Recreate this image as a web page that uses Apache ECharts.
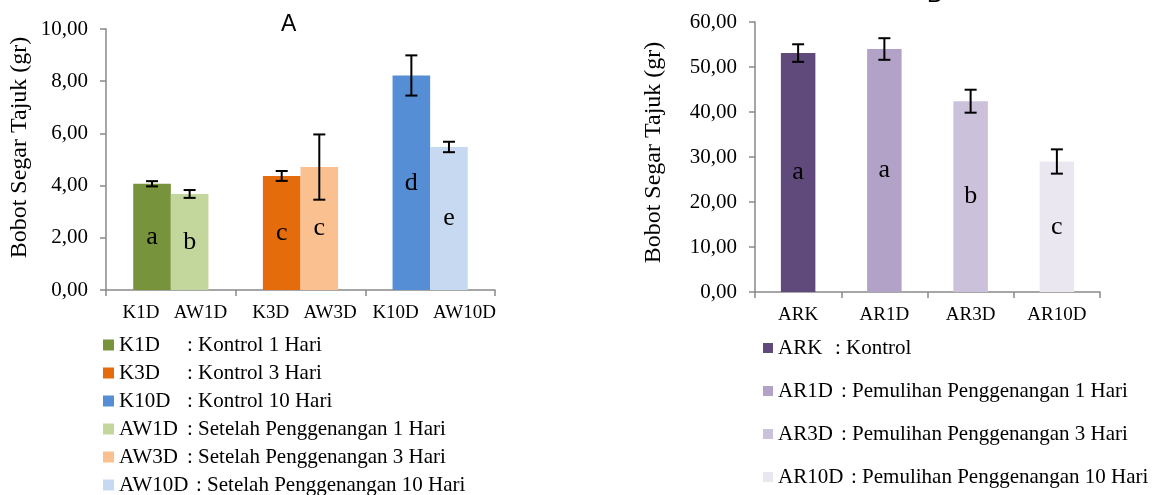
<!DOCTYPE html>
<html>
<head>
<meta charset="utf-8">
<title>Bobot Segar Tajuk</title>
<script src="https://cdn.jsdelivr.net/npm/echarts@6/dist/echarts.min.js"></script>
<style>
  html, body { margin: 0; padding: 0; background: #fff; }
  #chart { width: 1155px; height: 495px; }
</style>
</head>
<body>
<div id="chart"></div>
<script>
// Panel A: control (K) vs. after flooding (AW), grouped by flooding duration
const kNames = ['K1D', 'K3D', 'K10D'];
const kValues = [4.07, 4.37, 8.22];
const kErrors = [0.10, 0.19, 0.77];
const kLetters = ['a', 'c', 'd'];
const kDesc = ['Kontrol 1 Hari', 'Kontrol 3 Hari', 'Kontrol 10 Hari'];
const kColors = ['#77933C', '#E46C0A', '#558ED5'];

const awNames = ['AW1D', 'AW3D', 'AW10D'];
const awValues = [3.68, 4.71, 5.48];
const awErrors = [0.15, 1.25, 0.20];
const awLetters = ['b', 'c', 'e'];
const awDesc = ['Setelah Penggenangan 1 Hari', 'Setelah Penggenangan 3 Hari', 'Setelah Penggenangan 10 Hari'];
const awColors = ['#C3D69B', '#FAC090', '#C6D9F1'];

// Panel B: recovery after flooding
const arNames = ['ARK', 'AR1D', 'AR3D', 'AR10D'];
const arValues = [53.1, 54.0, 42.4, 29.0];
const arErrors = [1.95, 2.40, 2.55, 2.70];
const arLetters = ['a', 'a', 'b', 'c'];
const arDesc = ['Kontrol', 'Pemulihan Penggenangan 1 Hari', 'Pemulihan Penggenangan 3 Hari', 'Pemulihan Penggenangan 10 Hari'];
const arColors = ['#604A7B', '#B3A2C7', '#CCC1DA', '#EBE7F1'];

const yTicksA = { min: 0, max: 10, interval: 2 };
const yTicksB = { min: 0, max: 60, interval: 10 };
const yAxisTitle = 'Bobot Segar Tajuk (gr)';

const SERIF = 'Liberation Serif';
const AXIS_GREY = '#898989';

const chart = echarts.init(document.getElementById('chart'), null, { renderer: 'canvas' });

const commaFmt = v => v.toFixed(2).replace('.', ',');

// one bar per series, placed only in its own category so each has its own legend entry
function soloData(values, i) {
  return values.map((v, j) => (j === i ? v : '-'));
}

function barSeries(name, values, i, color, letters, stack, axis, gap) {
  return {
    type: 'bar',
    name: name,
    stack: stack,
    xAxisIndex: axis,
    yAxisIndex: axis,
    data: soloData(values, i),
    barGap: '0%',
    barCategoryGap: gap,
    itemStyle: { color: color },
    label: {
      show: true,
      position: 'inside',
      formatter: () => letters[i],
      fontFamily: SERIF,
      fontSize: 26,
      color: '#000'
    },
    emphasis: { disabled: true }
  };
}

// Error bars drawn on top of each bar; shift is the bar-centre offset as a fraction of the category width
function errorSeries(points, axis) {
  return {
    type: 'custom',
    xAxisIndex: axis,
    yAxisIndex: axis,
    silent: true,
    z: 10,
    data: points,
    encode: { x: 0, y: 1 },
    renderItem: function (params, api) {
      const cat = api.value(0);
      const v = api.value(1);
      const e = api.value(2);
      const shift = api.value(3);
      const catW = api.size([1, 0])[0];
      const hi = api.coord([cat, v + e]);
      const lo = api.coord([cat, v - e]);
      const x = hi[0] + shift * catW;
      const cap = 6;
      const st = { stroke: '#000', lineWidth: 2 };
      return {
        type: 'group',
        children: [
          { type: 'line', shape: { x1: x, y1: hi[1], x2: x, y2: lo[1] }, style: st },
          { type: 'line', shape: { x1: x - cap, y1: hi[1], x2: x + cap, y2: hi[1] }, style: st },
          { type: 'line', shape: { x1: x - cap, y1: lo[1], x2: x + cap, y2: lo[1] }, style: st }
        ]
      };
    }
  };
}

const series = [];
kNames.forEach((n, i) => series.push(barSeries(n, kValues, i, kColors[i], kLetters, 'K', 0, '42%')));
awNames.forEach((n, i) => series.push(barSeries(n, awValues, i, awColors[i], awLetters, 'AW', 0, '42%')));
arNames.forEach((n, i) => series.push(barSeries(n, arValues, i, arColors[i], arLetters, 'AR', 1, '60%')));

const errA = [];
kValues.forEach((v, i) => errA.push([i, v, kErrors[i], -0.145]));
awValues.forEach((v, i) => errA.push([i, v, awErrors[i], 0.145]));
series.push(errorSeries(errA, 0));
series.push(errorSeries(arValues.map((v, i) => [i, v, arErrors[i], 0]), 1));

const descA = {};
kNames.forEach((n, i) => { descA[n] = kDesc[i]; });
awNames.forEach((n, i) => { descA[n] = awDesc[i]; });
const descB = {};
arNames.forEach((n, i) => { descB[n] = arDesc[i]; });

// width of the code column in the legend, so the colons line up
const measureCtx = document.createElement('canvas').getContext('2d');
measureCtx.font = '21px "' + SERIF + '"';
function codeWidth(name, minW) {
  return Math.max(minW, Math.round(measureCtx.measureText(name).width + 8));
}

function legend(names, desc, left, top, gap, icon, minW) {
  const rich = {};
  names.forEach((n, i) => {
    rich['c' + i] = { width: codeWidth(n, minW), fontFamily: SERIF, fontSize: 21, color: '#000', lineHeight: 22 };
  });
  rich.d = { fontFamily: SERIF, fontSize: 21, color: '#000', lineHeight: 22 };
  return {
    orient: 'vertical',
    left: left,
    top: top,
    height: 200,
    padding: 0,
    itemGap: gap,
    itemWidth: icon,
    itemHeight: icon,
    icon: 'rect',
    selectedMode: false,
    data: names,
    formatter: name => '{c' + names.indexOf(name) + '|' + name + '}{d|: ' + desc[name] + '}',
    textStyle: { fontFamily: SERIF, fontSize: 21, color: '#000', lineHeight: 22, rich: rich }
  };
}

function valueAxis(grid, ticks, nameGap, namePad) {
  return {
    type: 'value',
    gridIndex: grid,
    min: ticks.min,
    max: ticks.max,
    interval: ticks.interval,
    name: yAxisTitle,
    nameLocation: 'middle',
    nameGap: nameGap,
    nameTextStyle: { fontFamily: SERIF, fontSize: 24, color: '#000', padding: [0, 0, 0, namePad] },
    axisLine: { show: true, lineStyle: { color: AXIS_GREY, width: 1.5 } },
    axisTick: { show: true, length: 6, lineStyle: { color: AXIS_GREY, width: 1.5 } },
    axisLabel: { formatter: commaFmt, fontFamily: SERIF, fontSize: 21, color: '#000', margin: 18 },
    splitLine: { show: false }
  };
}

function categoryAxis(grid, labels, labelPad) {
  return {
    type: 'category',
    gridIndex: grid,
    data: labels,
    axisLine: { show: true, lineStyle: { color: AXIS_GREY, width: 1.5 } },
    axisTick: { show: true, length: 6, lineStyle: { color: AXIS_GREY, width: 1.5 } },
    axisLabel: { fontFamily: SERIF, fontSize: 19, color: '#000', margin: 14, interval: 0, padding: [0, 0, 0, labelPad] },
    splitLine: { show: false }
  };
}

const groupLabels = kNames.map((n, i) => n + '   ' + awNames[i]);

const option = {
  backgroundColor: '#fff',
  animation: false,
  title: [
    { text: 'A', left: 276, top: 8, textStyle: { fontFamily: 'Liberation Sans', fontSize: 23, fontWeight: 'normal', color: '#000' } },
    { text: 'B', left: 922, top: -21, textStyle: { fontFamily: 'Liberation Sans', fontSize: 23, fontWeight: 'normal', color: '#000' } }
  ],
  grid: [
    { left: 106, top: 29, width: 389, height: 261 },
    { left: 755, top: 22, width: 345, height: 270 }
  ],
  xAxis: [categoryAxis(0, groupLabels, 8), categoryAxis(1, arNames, 0)],
  yAxis: [valueAxis(0, yTicksA, 74, 24), valueAxis(1, yTicksB, 89, 9)],
  legend: [
    legend(kNames.concat(awNames), descA, 103, 334, 6, 11, 68),
    legend(arNames, descB, 763, 337, 21, 10, 57)
  ],
  series: series
};

chart.setOption(option);
</script>
</body>
</html>
